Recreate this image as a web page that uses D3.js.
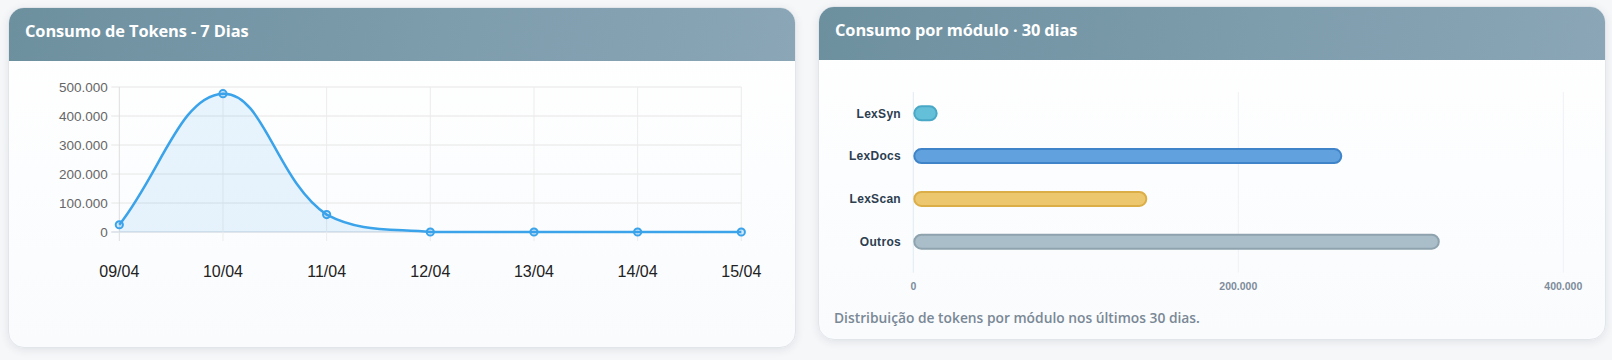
<!DOCTYPE html>
<html>
<head>
<meta charset="utf-8">
<script src="https://cdn.jsdelivr.net/npm/d3@7/dist/d3.min.js"></script>
<style>
  html, body { margin: 0; padding: 0; }
  body { width: 1612px; height: 360px; background: #f6f7f9; position: relative; overflow: hidden; font-family: "Open Sans", sans-serif; }
  .card { position: absolute; box-sizing: border-box; border: 1px solid #e2e6ea; border-radius: 16px; overflow: hidden;
          background: linear-gradient(180deg, #ffffff 0%, #f9fbfd 100%); box-shadow: 0 2px 8px rgba(30,50,70,0.10); }
  .hdr { position: absolute; left: 0; top: 0; right: 0; height: 53px;
         background: linear-gradient(100deg, #6d909f 0%, #8aa6b7 100%); }
  .hdr span { position: absolute; left: 16px; top: 11px; color: #fff; font-weight: 700; font-size: 16.4px; letter-spacing: -0.1px; }
  .card svg { position: absolute; left: 0; top: 0; }
  .sub { position: absolute; left: 15px; top: 301px; font-size: 13.8px; font-weight: 600; color: #7a8896; }
</style>
</head>
<body>
<div class="card" id="c1" style="left:8px; top:7px; width:788px; height:341px;">
  <div class="hdr"><span>Consumo de Tokens - 7 Dias</span></div>
  <svg id="s1" width="788" height="341"></svg>
</div>
<div class="card" id="c2" style="left:818px; top:6px; width:788px; height:334px;">
  <div class="hdr"><span>Consumo por módulo · 30 dias</span></div>
  <svg id="s2" width="788" height="334"></svg>
  <div class="sub">Distribuição de tokens por módulo nos últimos 30 dias.</div>
</div>
<script>
// ---- data ----
const days = ["09/04", "10/04", "11/04", "12/04", "13/04", "14/04", "15/04"];
const tokens7d = [25000, 477000, 60000, 0, 0, 0, 0];
const yTicks = [0, 100000, 200000, 300000, 400000, 500000];

const modules = ["LexSyn", "LexDocs", "LexScan", "Outros"];
const moduleTokens = [15000, 264000, 144000, 324000];
const xTicks = [0, 200000, 400000];

// ---- styles ----
const moduleFill = ["#64bfd9", "#60a1de", "#ecc76e", "#a9bec8"];
const moduleStroke = ["#48a8c6", "#3f84c8", "#dcae47", "#8ea3ae"];

const loc = d3.formatLocale({decimal: ",", thousands: ".", grouping: [3], currency: ["R$", ""]});
const fmt = loc.format(",d");

// Chart.js-like spline (tension 0.4, control points capped to chart area)
function chartSpline(area, t) {
  return function(context) {
    let pts;
    const cap = (v, lo, hi) => Math.max(lo, Math.min(hi, v));
    return {
      areaStart() {}, areaEnd() {},
      lineStart() { pts = []; },
      point(x, y) { pts.push([+x, +y]); },
      lineEnd() {
        const n = pts.length;
        if (!n) return;
        const cps = pts.map((p, i) => {
          const prev = pts[Math.max(0, i - 1)], next = pts[Math.min(n - 1, i + 1)];
          const d01 = Math.hypot(p[0] - prev[0], p[1] - prev[1]);
          const d12 = Math.hypot(next[0] - p[0], next[1] - p[1]);
          let s01 = d01 / (d01 + d12), s12 = d12 / (d01 + d12);
          if (isNaN(s01)) s01 = 0; if (isNaN(s12)) s12 = 0;
          const fa = t * s01, fb = t * s12;
          const c1 = [p[0] - fa * (next[0] - prev[0]), p[1] - fa * (next[1] - prev[1])];
          const c2 = [p[0] + fb * (next[0] - prev[0]), p[1] + fb * (next[1] - prev[1])];
          [c1, c2].forEach(c => { c[0] = cap(c[0], area.left, area.right); c[1] = cap(c[1], area.top, area.bottom); });
          return [c1, c2];
        });
        context.moveTo(pts[0][0], pts[0][1]);
        for (let i = 1; i < n; i++) {
          context.bezierCurveTo(cps[i - 1][1][0], cps[i - 1][1][1], cps[i][0][0], cps[i][0][1], pts[i][0], pts[i][1]);
        }
      }
    };
  };
}

// ---- chart 1: line ----
(function() {
  const svg = d3.select("#s1");
  const L = 110.3, R = 732.3, T = 79, B = 224;
  const x = d3.scalePoint().domain(days).range([L, R]);
  const y = d3.scaleLinear().domain([0, 500000]).range([B, T]);

  const g = svg.append("g");
  g.selectAll("line.hg").data(yTicks).join("line")
    .attr("x1", L - 8).attr("x2", R)
    .attr("y1", d => y(d)).attr("y2", d => y(d))
    .attr("stroke", d => d === 0 ? "#c5cfd9" : "#e6e6e6").attr("stroke-width", 1);
  g.selectAll("line.vg").data(days).join("line")
    .attr("x1", d => x(d)).attr("x2", d => x(d))
    .attr("y1", T).attr("y2", B + 9)
    .attr("stroke", (d, i) => i === 0 ? "#dedede" : "#ececec").attr("stroke-width", 1);

  g.selectAll("text.yl").data(yTicks).join("text")
    .attr("x", L - 11.5).attr("y", d => y(d)).attr("dy", "0.35em")
    .attr("text-anchor", "end")
    .attr("font-family", "'Liberation Sans', Arial, sans-serif").attr("font-size", 13.5)
    .attr("fill", "#666").text(d => fmt(d));
  g.selectAll("text.xl").data(days).join("text")
    .attr("x", d => x(d)).attr("y", 263).attr("dy", "0.35em")
    .attr("text-anchor", "middle")
    .attr("font-family", "'Liberation Sans', Arial, sans-serif").attr("font-size", 16)
    .attr("fill", "#222").text(d => d);

  const curve = chartSpline({left: L, right: R, top: T, bottom: B}, 0.4);
  const line = d3.line().x((d, i) => x(days[i])).y(d => y(d)).curve(curve);
  const lp = line(tokens7d);
  const areaD = lp + "L" + x(days[days.length - 1]) + "," + y(0) + "L" + x(days[0]) + "," + y(0) + "Z";
  svg.append("path").attr("d", areaD).attr("fill", "rgba(54,162,235,0.11)").attr("stroke", "none");
  svg.append("path").attr("d", lp).attr("fill", "none").attr("stroke", "#3aa3ea").attr("stroke-width", 2.5);
  svg.selectAll("circle.pt").data(tokens7d).join("circle")
    .attr("cx", (d, i) => x(days[i])).attr("cy", d => y(d)).attr("r", 3.6)
    .attr("fill", "rgba(54,162,235,0.2)").attr("stroke", "#3aa3ea").attr("stroke-width", 2);
})();

// ---- chart 2: horizontal bars ----
(function() {
  const svg = d3.select("#s2");
  const L = 94.3, R = 744.3, T = 84.9, B = 256.1;
  const x = d3.scaleLinear().domain([0, 400000]).range([L, R]);
  const y = d3.scaleBand().domain(modules).range([T, B]);
  const bh = 16;

  svg.selectAll("line.vg").data(xTicks).join("line")
    .attr("x1", d => x(d)).attr("x2", d => x(d))
    .attr("y1", T).attr("y2", 265.7)
    .attr("stroke", d => d === 0 ? "#e2ebf3" : "#eef2f6").attr("stroke-width", 1);

  svg.selectAll("text.xl").data(xTicks).join("text")
    .attr("x", d => x(d)).attr("y", 279).attr("dy", "0.35em")
    .attr("text-anchor", "middle")
    .attr("font-family", "'Liberation Sans', Arial, sans-serif").attr("font-size", 10.5).attr("font-weight", 700)
    .attr("fill", "#7e8c9b").text(d => fmt(d));

  svg.selectAll("text.yl").data(modules).join("text")
    .attr("x", 82).attr("y", d => y(d) + y.bandwidth() / 2).attr("dy", "0.35em")
    .attr("text-anchor", "end")
    .attr("font-family", "'Liberation Sans', Arial, sans-serif").attr("font-size", 12).attr("font-weight", 700)
    .attr("letter-spacing", 0.3)
    .attr("fill", "#2c3e50").text(d => d);

  svg.selectAll("rect.bar").data(moduleTokens).join("rect")
    .attr("x", x(0) + 1)
    .attr("y", (d, i) => y(modules[i]) + y.bandwidth() / 2 - bh / 2 + 1)
    .attr("width", d => Math.max(0, x(d) - x(0) - 2))
    .attr("height", bh - 2)
    .attr("rx", (bh - 2) / 2).attr("ry", (bh - 2) / 2)
    .attr("fill", (d, i) => moduleFill[i])
    .attr("stroke", (d, i) => moduleStroke[i]).attr("stroke-width", 2);
})();
</script>
</body>
</html>
